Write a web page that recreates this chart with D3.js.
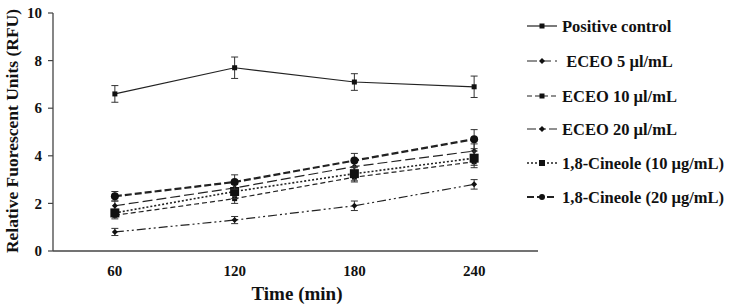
<!DOCTYPE html>
<html>
<head>
<meta charset="utf-8">
<script src="https://cdn.jsdelivr.net/npm/d3@7"></script>
<style>
  body { margin: 0; background: #fff; }
  text { font-family: "Liberation Serif", "Times New Roman", serif; font-weight: bold; fill: #111; }
</style>
</head>
<body>
<svg width="731" height="305"></svg>
<script>
// data
const times = [60, 120, 180, 240];
const yTicks = [0, 2, 4, 6, 8, 10];
const seriesNames = ["Positive control", " ECEO 5 \u00b5l/mL", "ECEO 10 \u00b5l/mL", "ECEO 20 \u00b5l/mL",
                     "1,8-Cineole (10 \u00b5g/mL)", "1,8-Cineole (20 \u00b5g/mL)"];
const positiveControl = [6.6, 7.7, 7.1, 6.9];
const positiveControlErr = [0.35, 0.45, 0.35, 0.45];
const eceo5 = [1.9, 2.65, 3.55, 4.2];
const eceo5Err = [0.2, 0.25, 0.25, 0.3];
const eceo10 = [1.5, 2.2, 3.1, 3.75];
const eceo10Err = [0.15, 0.2, 0.2, 0.25];
const eceo20 = [0.8, 1.3, 1.9, 2.8];
const eceo20Err = [0.15, 0.15, 0.2, 0.2];
const cineole10 = [1.6, 2.5, 3.25, 3.9];
const cineole10Err = [0.15, 0.3, 0.3, 0.3];
const cineole20 = [2.3, 2.9, 3.8, 4.7];
const cineole20Err = [0.2, 0.3, 0.3, 0.4];

const svg = d3.select("svg");

const x = d3.scaleLinear().domain([29, 272]).range([53, 538]);
const y = d3.scaleLinear().domain([0, 10]).range([251, 13]);

// styles per series
const styles = [
  { dash: null, width: 1.2, marker: "square", size: 2.5 },
  { dash: "10,4", width: 1.2, marker: "diamond", size: 2.5 },
  { dash: "5,3", width: 1.2, marker: "square", size: 2.5 },
  { dash: "9,3,2,3,2,3", width: 1.2, marker: "diamond", size: 2.5 },
  { dash: "2,2", width: 1.6, marker: "square", size: 4.5 },
  { dash: "7,3", width: 2.2, marker: "circle", size: 4 }
];

const series = [
  [positiveControl, positiveControlErr],
  [eceo5, eceo5Err],
  [eceo10, eceo10Err],
  [eceo20, eceo20Err],
  [cineole10, cineole10Err],
  [cineole20, cineole20Err]
].map(([vals, errs], i) => ({
  name: seriesNames[i],
  style: styles[i],
  points: times.map((t, j) => ({ t: t, v: vals[j], e: errs[j] }))
}));

// axes
svg.append("line").attr("x1", 53).attr("x2", 53).attr("y1", y(10)).attr("y2", y(0))
  .attr("stroke", "#444").attr("stroke-width", 1.3);
svg.append("line").attr("x1", 53).attr("x2", 538).attr("y1", y(0)).attr("y2", y(0))
  .attr("stroke", "#444").attr("stroke-width", 1.3);

yTicks.forEach(t => {
  svg.append("line").attr("x1", 48).attr("x2", 53).attr("y1", y(t)).attr("y2", y(t))
    .attr("stroke", "#444").attr("stroke-width", 1.2);
  svg.append("text").attr("x", 42).attr("y", y(t)).attr("dy", "0.35em")
    .attr("text-anchor", "end").style("font-size", "15px").text(t);
});

times.forEach(t => {
  svg.append("text").attr("x", x(t)).attr("y", 276)
    .attr("text-anchor", "middle").style("font-size", "15px").text(t);
});

svg.append("text").attr("x", 297).attr("y", 300).attr("text-anchor", "middle")
  .style("font-size", "19px").text("Time (min)");

svg.append("text").attr("transform", "translate(18,131) rotate(-90)")
  .attr("text-anchor", "middle").style("font-size", "17.5px")
  .text("Relative Fuorescent Units (RFU)");

function drawMarker(g, m, cx, cy) {
  if (m.marker === "circle") {
    g.append("circle").attr("cx", cx).attr("cy", cy).attr("r", m.size).attr("fill", "#111");
  } else if (m.marker === "square") {
    g.append("rect").attr("x", cx - m.size).attr("y", cy - m.size)
      .attr("width", m.size * 2).attr("height", m.size * 2).attr("fill", "#111");
  } else {
    const s = m.size + 0.5;
    g.append("path").attr("d", `M${cx},${cy - s}L${cx + s},${cy}L${cx},${cy + s}L${cx - s},${cy}Z`)
      .attr("fill", "#111");
  }
}

const line = d3.line().x(d => x(d.t)).y(d => y(d.v));

series.forEach(s => {
  const g = svg.append("g");
  g.append("path").datum(s.points).attr("d", line)
    .attr("fill", "none").attr("stroke", "#222")
    .attr("stroke-width", s.style.width)
    .attr("stroke-dasharray", s.style.dash);
  s.points.forEach(p => {
    const cx = x(p.t);
    g.append("line").attr("x1", cx).attr("x2", cx).attr("y1", y(p.v - p.e)).attr("y2", y(p.v + p.e))
      .attr("stroke", "#333").attr("stroke-width", 1);
    [p.v - p.e, p.v + p.e].forEach(v => {
      g.append("line").attr("x1", cx - 3.5).attr("x2", cx + 3.5).attr("y1", y(v)).attr("y2", y(v))
        .attr("stroke", "#333").attr("stroke-width", 1);
    });
    drawMarker(g, s.style, cx, y(p.v));
  });
});

// legend
const legendY = [26, 61, 96, 129, 163, 197];
series.forEach((s, i) => {
  const g = svg.append("g").attr("transform", `translate(527,${legendY[i]})`);
  g.append("line").attr("x1", 0).attr("x2", 30).attr("y1", 0).attr("y2", 0)
    .attr("stroke", "#222").attr("stroke-width", s.style.width)
    .attr("stroke-dasharray", s.style.dash);
  drawMarker(g, { marker: s.style.marker, size: Math.min(s.style.size, 3) }, 15, 0);
  g.append("text").attr("x", 35).attr("y", 0).attr("dy", "0.35em")
    .style("font-size", "16.5px").style("white-space", "pre").attr("xml:space", "preserve")
    .text(s.name);
});
</script>
</body>
</html>
